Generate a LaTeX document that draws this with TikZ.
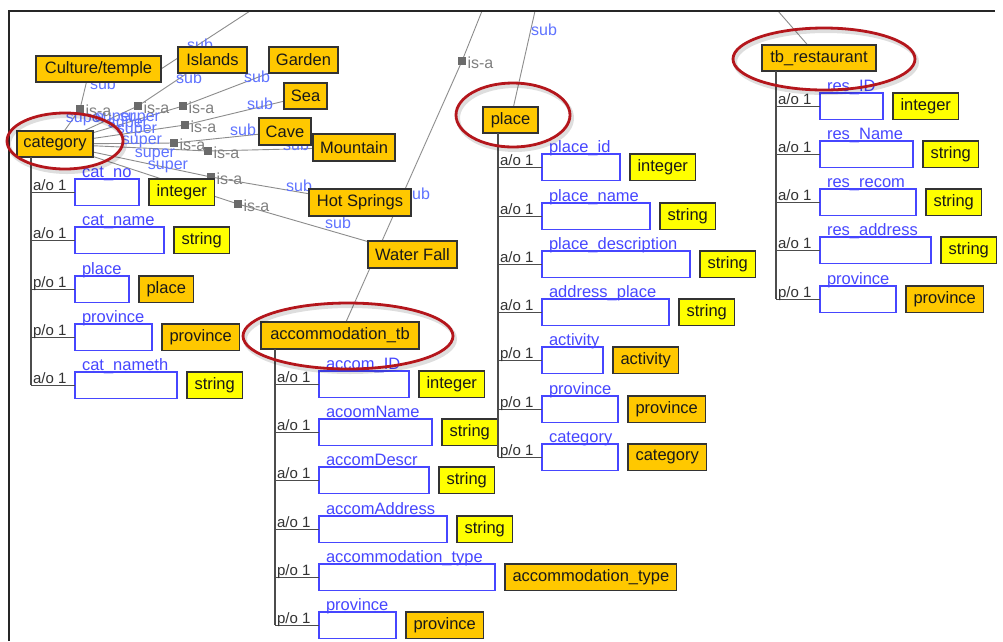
\documentclass[tikz,border=0pt]{standalone}
\usepackage{fontspec}
\setmainfont{Liberation Sans}
\pgfdeclarelayer{paper}
\pgfdeclarelayer{back}
\pgfsetlayers{paper,back,main}

\definecolor{clsorange}{RGB}{255,200,0}
\definecolor{typeyellow}{RGB}{255,255,0}
\definecolor{slotblue}{RGB}{70,70,255}
\definecolor{roleblue}{RGB}{95,115,255}
\definecolor{ringred}{RGB}{180,22,28}

\newcommand{\diagbig}{\fontsize{16.5}{19}\selectfont}
\newcommand{\diagcard}{\fontsize{15}{17}\selectfont}
\newcommand{\diagsmall}{\fontsize{16}{18}\selectfont}

% one slot of a class: slot box, its name, cardinality, branch and value type
% #1 name, #2 spine x, #3 box top, #4 box width, #5 slot name, #6 cardinality,
% #7 type style, #8 type name
\newcommand{\slotrow}[8]{%
  \node[slotbox, minimum width=#4pt] (#1) at (#2+44,#3) {};
  \coordinate (#1j) at (#2,#3+13.25);
  \draw[branch] (#1j) -- (#1.west);
  \node[slotname] (#1n) at ([xshift=7pt,yshift=1.8pt]#1.north west) {#5};
  \node[card] (#1c) at ([xshift=2pt,yshift=2pt]#1j) {#6};
  \node[#7] (#1t) at ([xshift=10pt]#1.east) {#8};
}

\begin{document}
\begin{tikzpicture}[x=1pt,y=-1pt,
  every node/.style={inner sep=0pt, outer sep=0pt},
  clsbox/.style={draw=black!80, line width=1.2pt, fill=clsorange, anchor=north west,
    minimum height=26pt, font=\diagbig, text=black!90},
  typeY/.style={draw=black!80, line width=1.2pt, fill=typeyellow, anchor=west,
    minimum height=26.5pt, inner xsep=7.5pt, font=\diagbig, text=black!90},
  typeO/.style={typeY, fill=clsorange},
  slotbox/.style={draw=slotblue, line width=1.3pt, fill=white, anchor=north west,
    minimum height=26.5pt},
  slotname/.style={anchor=base west, text=slotblue, font=\diagbig},
  card/.style={anchor=base west, text=black!80, font=\diagcard},
  branch/.style={draw=black!70, line width=1.3pt},
  link/.style={draw=black!45, line width=0.9pt},
  isasq/.style={fill=black!58, minimum size=8pt},
  isalbl/.style={anchor=west, text=black!50, font=\diagsmall},
  rolelbl/.style={text=roleblue, font=\diagsmall},
  ring/.style={draw=ringred, line width=2.8pt},
  ringshade/.style={draw=black, opacity=0.13, line width=4pt}]

\useasboundingbox (0,0) rectangle (1003,641);
\begin{pgfonlayer}{paper}
  \fill[white] (0,0) rectangle (1003,641);
\end{pgfonlayer}

% window frame
\draw[black!85, line width=1.5pt] (9,641) -- (9,11) -- (995,11);

% ---------- classes ----------
\node[clsbox, minimum width=125pt] (culture)   at (36,56)  {Culture/temple};
\node[clsbox, minimum width=69pt]  (islands)   at (178,47) {Islands};
\node[clsbox, minimum width=69pt]  (garden)    at (269,47) {Garden};
\node[clsbox, minimum width=43pt]  (sea)       at (284,83) {Sea};
\node[clsbox, minimum width=52pt, minimum height=27pt] (cave) at (259,118) {Cave};
\node[clsbox, minimum width=82pt, minimum height=27pt] (mountain) at (313,134) {Mountain};
\node[clsbox, minimum width=102pt, minimum height=27pt] (hotspr) at (309,189) {Hot Springs};
\node[clsbox, minimum width=89pt, minimum height=27pt] (waterfall) at (368,241) {Water Fall};
\node[clsbox, minimum width=76pt]  (category)  at (17,131) {category};
\node[clsbox, minimum width=158pt, minimum height=27pt] (accom) at (261,322) {accommodation\_tb};
\node[clsbox, minimum width=55pt]  (place)     at (483,107) {place};
\node[clsbox, minimum width=114pt] (rest)      at (762,45) {tb\_restaurant};

% is-a markers
\node[isasq] (sq1) at (80,109) {};
\node[isasq] (sq2) at (138,106) {};
\node[isasq] (sq3) at (183,106) {};
\node[isasq] (sq4) at (185,125) {};
\node[isasq] (sq5) at (174,143) {};
\node[isasq] (sq6) at (208,151) {};
\node[isasq] (sq7) at (211,177) {};
\node[isasq] (sq8) at (238,204) {};
\node[isasq] (sq9) at (462,61) {};
\foreach \s in {sq1,sq2,sq3,sq4,sq5,sq6,sq7,sq8,sq9}
  \node[isalbl] (\s l) at ([xshift=1.5pt,yshift=-1.5pt]\s.east) {is-a};

% free ends of the links leaving the view
\coordinate (topA) at (250,11);
\coordinate (topB) at (482,11);
\coordinate (topC) at (535,11);
\coordinate (topD) at (778,11);

\begin{pgfonlayer}{back}
  \draw[link] ([xshift=-12pt]culture.south) -- (sq1) -- (category);
  \draw[link] ([xshift=-25pt]islands.south) -- (sq2) -- (category);
  \draw[link] (garden.south west) -- (sq3) -- (category);
  \draw[link] (sea) -- (sq4) -- (category);
  \draw[link] (cave) -- (sq5) -- (category);
  \draw[link] (mountain) -- (sq6) -- (category);
  \draw[link] (hotspr) -- (sq7) -- (category);
  \draw[link] (waterfall) -- (sq8) -- (category);
  \draw[link] (topA) -- (culture.east);
  \draw[link] (topB) -- (sq9) -- (accom);
  \draw[link] (topC) -- (place);
  \draw[link] (topD) -- (rest);

  % role names on the links
  \node[rolelbl] (subA)   at (200,45)  {sub};
  \node[rolelbl] (subCul) at (103,84)  {sub};
  \node[rolelbl] (subIsl) at (189,78)  {sub};
  \node[rolelbl] (subGar) at (257,77)  {sub};
  \node[rolelbl] (subSea) at (260,104) {sub};
  \node[rolelbl] (subCav) at (243,130) {sub};
  \node[rolelbl] (subMnt) at (296,145) {sub};
  \node[rolelbl] (subHot) at (299,186) {sub};
  \node[rolelbl] (subWat) at (338,223) {sub};
  \node[rolelbl] (subAcc) at (417,194) {sub};
  \node[rolelbl] (subPla) at (544,30)  {sub};
  \node[rolelbl] (sup1) at (86,120)  {super};
  \node[rolelbl] (sup2) at (115,119) {super};
  \node[rolelbl] (sup3) at (140,119) {super};
  \node[rolelbl] (sup8) at (128,125) {super};
  \node[rolelbl] (sup4) at (137,131) {super};
  \node[rolelbl] (sup5) at (142,142) {super};
  \node[rolelbl] (sup6) at (155,155) {super};
  \node[rolelbl] (sup7) at (168,167) {super};
\end{pgfonlayer}

% ---------- slots of category ----------
\slotrow{c1}{31}{179}{64}{cat\_no}{a/o 1}{typeY}{integer}
\slotrow{c2}{31}{227}{89}{cat\_name}{a/o 1}{typeY}{string}
\slotrow{c3}{31}{276}{54}{place}{p/o 1}{typeO}{place}
\slotrow{c4}{31}{324}{77}{province}{p/o 1}{typeO}{province}
\slotrow{c5}{31}{372}{102}{cat\_nameth}{a/o 1}{typeY}{string}
\draw[branch] (category.south west -| c5j) -- (c5j);

% ---------- slots of accommodation_tb ----------
\slotrow{a1}{275}{371}{90}{accom\_ID}{a/o 1}{typeY}{integer}
\slotrow{a2}{275}{419}{113}{acoomName}{a/o 1}{typeY}{string}
\slotrow{a3}{275}{467}{110}{accomDescr}{a/o 1}{typeY}{string}
\slotrow{a4}{275}{516}{128}{accomAddress}{a/o 1}{typeY}{string}
\slotrow{a5}{275}{564}{176}{accommodation\_type}{p/o 1}{typeO}{accommodation\_type}
\slotrow{a6}{275}{612}{77}{province}{p/o 1}{typeO}{province}
\draw[branch] (accom.south west -| a6j) -- (a6j);

% ---------- slots of place ----------
\slotrow{p1}{498}{154}{78}{place\_id}{a/o 1}{typeY}{integer}
\slotrow{p2}{498}{203}{108}{place\_name}{a/o 1}{typeY}{string}
\slotrow{p3}{498}{251}{148}{place\_description}{a/o 1}{typeY}{string}
\slotrow{p4}{498}{299}{127}{address\_place}{a/o 1}{typeY}{string}
\slotrow{p5}{498}{347}{61}{activity}{p/o 1}{typeO}{activity}
\slotrow{p6}{498}{396}{76}{province}{p/o 1}{typeO}{province}
\slotrow{p7}{498}{444}{76}{category}{p/o 1}{typeO}{category}
\draw[branch] (place.south west -| p7j) -- (p7j);

% ---------- slots of tb_restaurant ----------
\slotrow{r1}{776}{93}{63}{res\_ID}{a/o 1}{typeY}{integer}
\slotrow{r2}{776}{141}{93}{res\_Name}{a/o 1}{typeY}{string}
\slotrow{r3}{776}{189}{96}{res\_recom}{a/o 1}{typeY}{string}
\slotrow{r4}{776}{237}{111}{res\_address}{a/o 1}{typeY}{string}
\slotrow{r5}{776}{286}{76}{province}{p/o 1}{typeO}{province}
\draw[branch] (rest.south west -| r5j) -- (r5j);

% ---------- highlight rings ----------
\foreach \cx/\cy/\rx/\ry in {65/141/58/28, 348/336/105/33, 513/115/57/32, 824/59/91/31} {
  \draw[ringshade] (\cx+2,\cy+3) ellipse [x radius=\rx pt, y radius=\ry pt];
  \draw[ring] (\cx,\cy) ellipse [x radius=\rx pt, y radius=\ry pt];
}
\end{tikzpicture}
\end{document}
